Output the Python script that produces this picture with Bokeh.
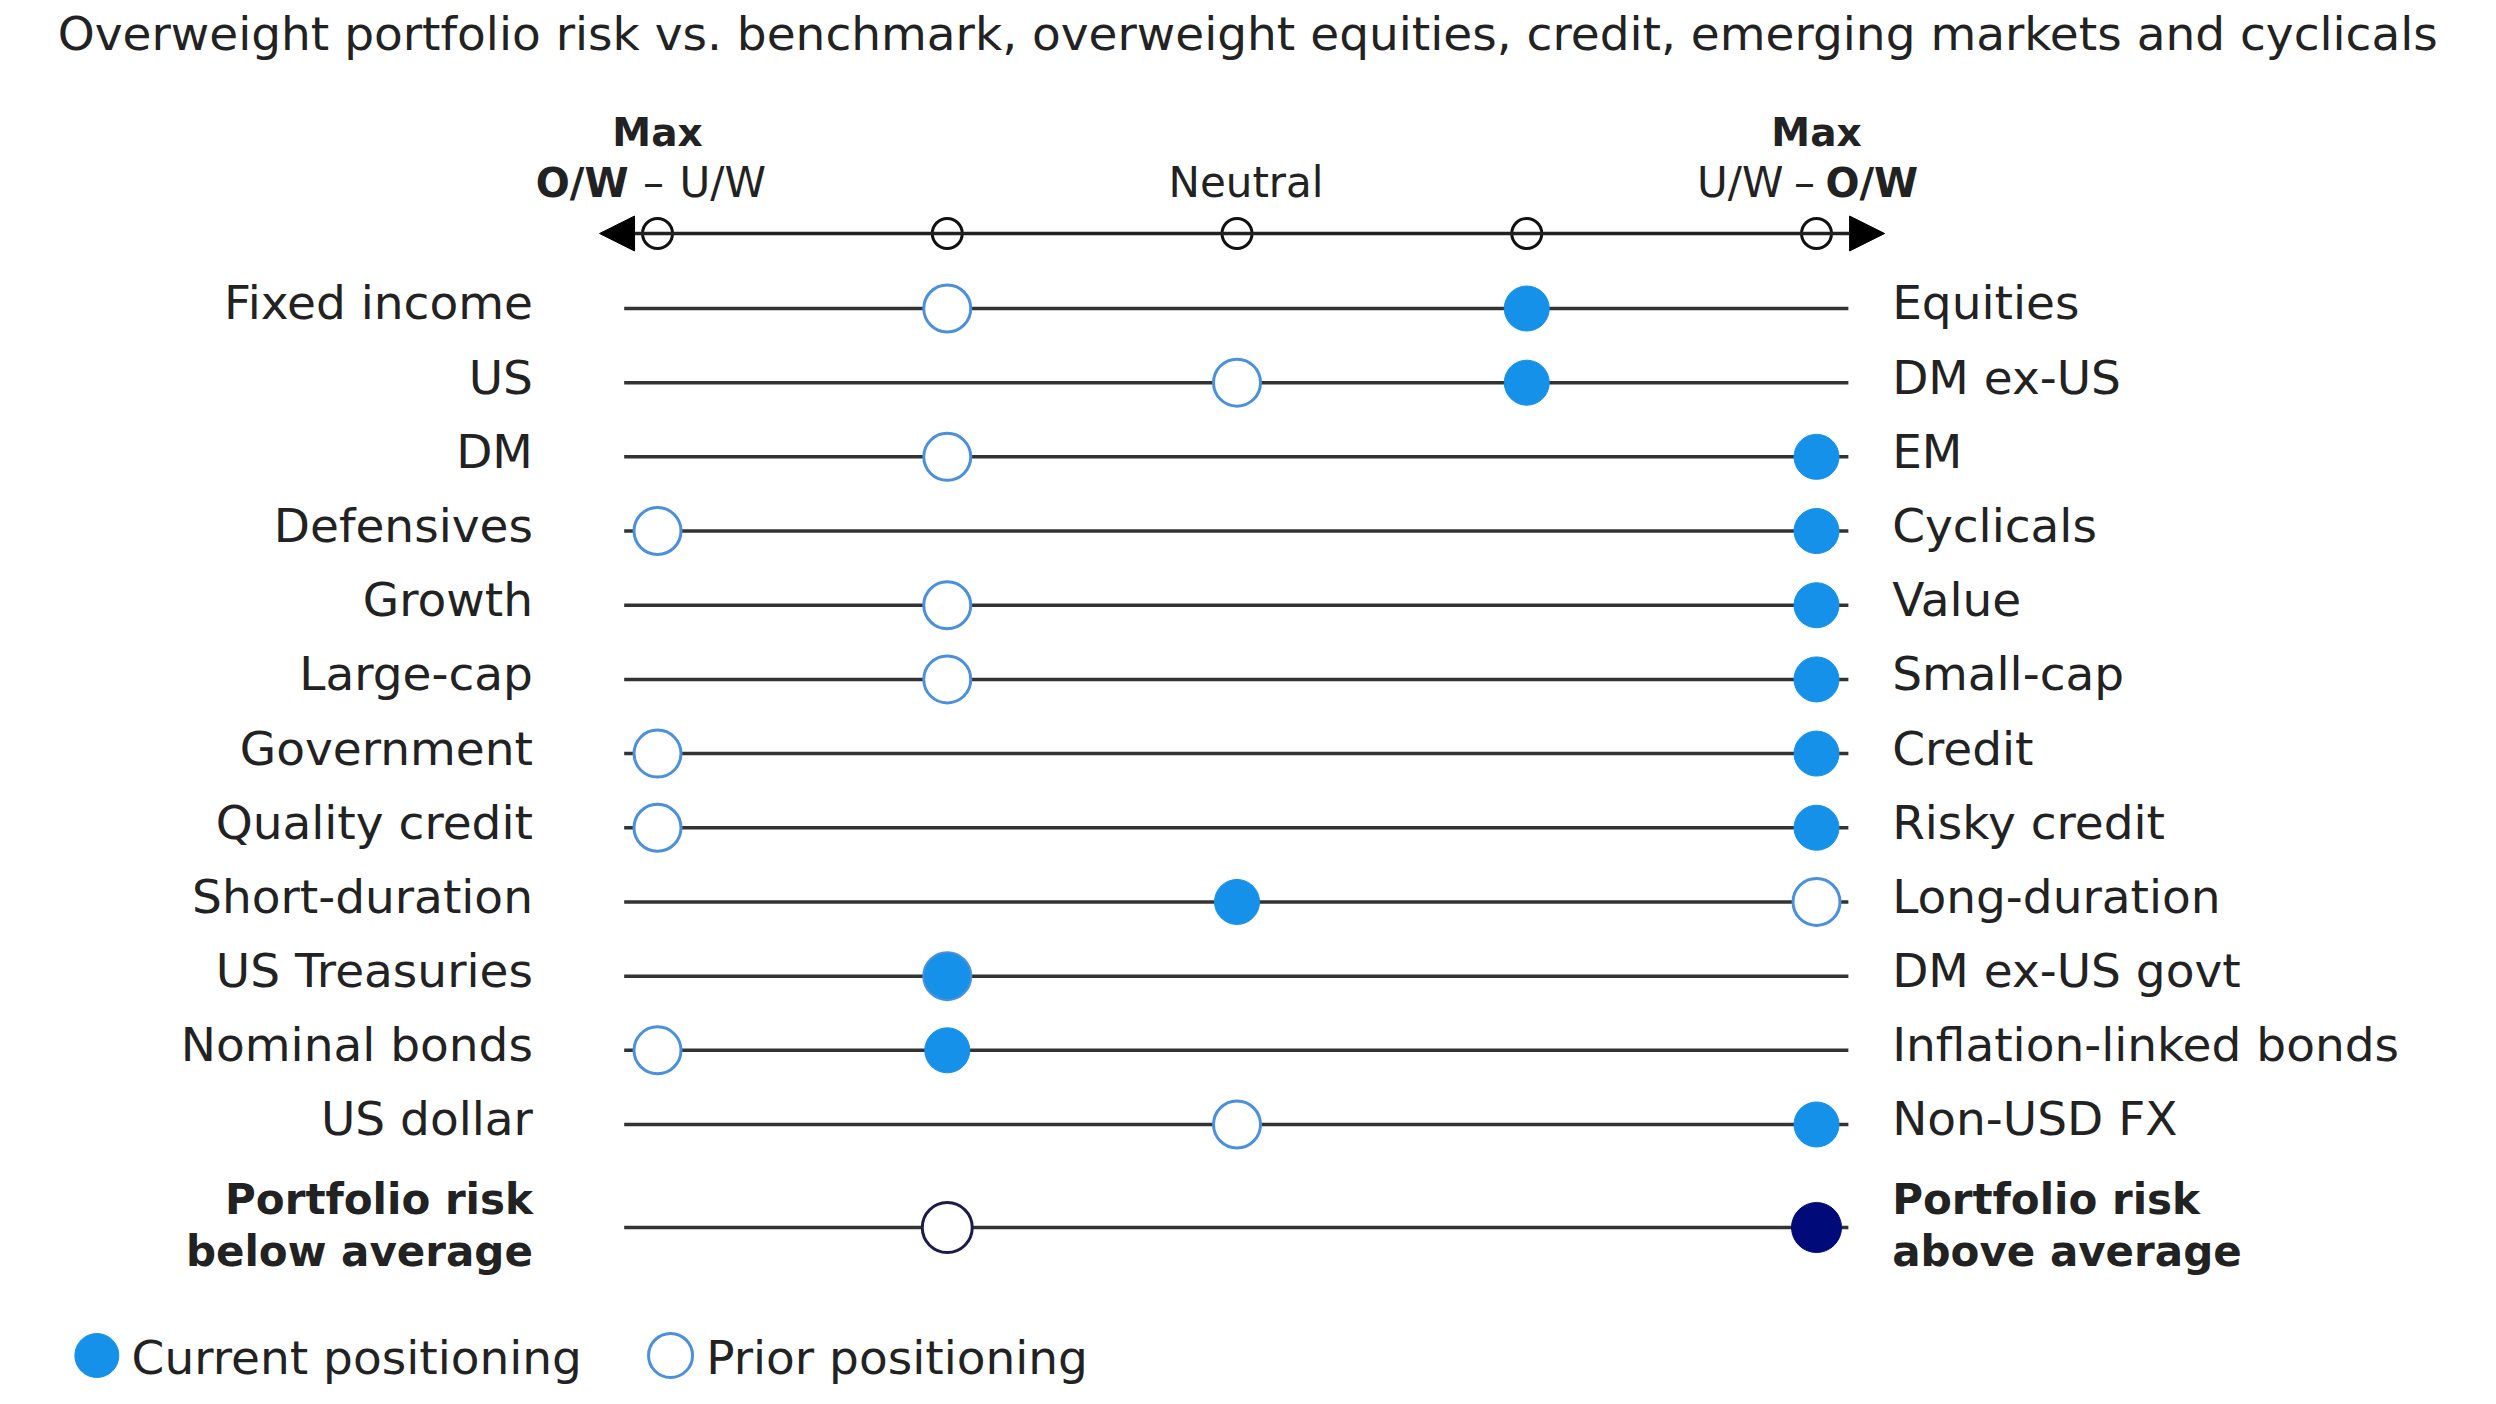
from bokeh.plotting import figure
from bokeh.models import Range1d, Arrow, NormalHead
from bokeh.core.properties import value
from bokeh.embed import file_html
from bokeh.resources import INLINE

# ---------------- data ----------------
title_text = ("Overweight portfolio risk vs. benchmark, overweight equities, "
              "credit, emerging markets and cyclicals")
left_labels = ["Fixed income", "US", "DM", "Defensives", "Growth", "Large-cap",
               "Government", "Quality credit", "Short-duration", "US Treasuries",
               "Nominal bonds", "US dollar"]
right_labels = ["Equities", "DM ex-US", "EM", "Cyclicals", "Value", "Small-cap",
                "Credit", "Risky credit", "Long-duration", "DM ex-US govt",
                "Inflation-linked bonds", "Non-USD FX"]
# scale: 0 = max O/W left item, 2 = neutral, 4 = max O/W right item
current_pos = [3, 3, 4, 4, 4, 4, 4, 4, 2, 1, 1, 4]
prior_pos = [1, 2, 1, 0, 1, 1, 0, 0, 4, 1, 0, 2]
risk_left = ["Portfolio risk", "below average"]
risk_right = ["Portfolio risk", "above average"]
risk_current = 4
risk_prior = 1
scale_ticks = [0, 1, 2, 3, 4]
legend_labels = ["Current positioning", "Prior positioning"]

# ---------------- styles / geometry ----------------
FONT = value("DejaVu Sans")
TXT = "#222222"
BLUE = "#1591EA"
BLUE_LINE = "#4A90DC"
NAVY = "#000A78"
LINE = "#333333"
W, H = 2480, 1388
ROW_PX = 74.18          # pixels per row


def dy(px):
    """pixel offset -> row units"""
    return px / ROW_PX


p = figure(width=W, height=H, x_range=Range1d(-2.2675, 6.2916),
           y_range=Range1d(14.559, -4.152), output_backend="svg",
           toolbar_location=None, min_border=0)
p.xaxis.visible = False
p.yaxis.visible = False
p.grid.visible = False
p.outline_line_color = None
p.background_fill_color = "white"
p.border_fill_color = "white"

n = len(left_labels)
ys = list(range(n))
risk_y = (n - 1) + 1.389
axis_y = -1.011
left_x, right_x = -0.43, 4.261
line_x0, line_x1 = -0.115, 4.110

# title
p.text(x=[-2.07], y=[-3.707], text=[title_text], text_align="left",
       text_baseline="alphabetic", text_font=FONT, text_font_size="47px",
       text_color=TXT)

# scale header
hdr_y1, hdr_y2 = -2.366, -1.692
p.text(x=[scale_ticks[0], scale_ticks[-1]], y=[hdr_y1, hdr_y1], text=["Max", "Max"],
       text_align="center", text_baseline="alphabetic", text_font=FONT,
       text_font_size="39px", text_font_style="bold", text_color=TXT)
# left end: "O/W – U/W"
p.text(x=[scale_ticks[0]], y=[hdr_y2], text=["–"], text_align="center",
       x_offset=-4, text_baseline="alphabetic", text_font=FONT,
       text_font_size="42px", text_color=TXT)
p.text(x=[scale_ticks[0]], y=[hdr_y2], text=["O/W"], text_align="right",
       x_offset=-29, text_baseline="alphabetic", text_font=FONT,
       text_font_size="40px", text_font_style="bold", text_color=TXT)
p.text(x=[scale_ticks[0]], y=[hdr_y2], text=["U/W"], text_align="left",
       x_offset=22, text_baseline="alphabetic", text_font=FONT,
       text_font_size="42px", text_color=TXT)
# right end: "U/W – O/W"
p.text(x=[scale_ticks[-1]], y=[hdr_y2], text=["–"], text_align="center",
       x_offset=-12, text_baseline="alphabetic", text_font=FONT,
       text_font_size="42px", text_color=TXT)
p.text(x=[scale_ticks[-1]], y=[hdr_y2], text=["U/W"], text_align="right",
       x_offset=-33, text_baseline="alphabetic", text_font=FONT,
       text_font_size="42px", text_color=TXT)
p.text(x=[scale_ticks[-1]], y=[hdr_y2], text=["O/W"], text_align="left",
       x_offset=9, text_baseline="alphabetic", text_font=FONT,
       text_font_size="40px", text_font_style="bold", text_color=TXT)
p.text(x=[scale_ticks[2]], y=[hdr_y2], text=["Neutral"], text_align="center",
       x_offset=9, text_baseline="alphabetic", text_font=FONT,
       text_font_size="42px", text_color=TXT)

# scale axis with arrows
p.add_layout(Arrow(start=NormalHead(size=35, fill_color="black", line_color="black"),
                   end=NormalHead(size=35, fill_color="black", line_color="black"),
                   x_start=-0.2, x_end=4.235, y_start=axis_y, y_end=axis_y,
                   line_width=3.5, line_color="#222222"))
p.scatter(x=scale_ticks, y=[axis_y] * len(scale_ticks), size=30,
          fill_color="white", line_color="#111111", line_width=3)

# row lines
p.segment(x0=[line_x0] * (n + 1), x1=[line_x1] * (n + 1),
          y0=ys + [risk_y], y1=ys + [risk_y], line_color=LINE, line_width=3.5)

# prior markers
p.scatter(x=prior_pos, y=ys, size=47, fill_color="white", line_color=BLUE_LINE,
          line_width=3)
# current markers
p.scatter(x=current_pos, y=ys, size=45, fill_color=BLUE, line_color=BLUE,
          line_width=1)
# risk row
p.scatter(x=[risk_prior], y=[risk_y], size=50, fill_color="white",
          line_color="#1C1C4A", line_width=3)
p.scatter(x=[risk_current], y=[risk_y], size=50, fill_color=NAVY,
          line_color=NAVY, line_width=1)

# row labels
lab_y = [y + dy(-5.5) for y in ys]
p.text(x=[left_x] * n, y=lab_y, text=left_labels, text_align="right",
       text_baseline="alphabetic", text_font=FONT, text_font_size="47px",
       text_color=TXT)
p.text(x=[right_x] * n, y=lab_y, text=right_labels, text_align="left",
       text_baseline="alphabetic", text_font=FONT, text_font_size="47px",
       text_color=TXT)
risk_lines_y = [risk_y - dy(28), risk_y + dy(24)]
p.text(x=[left_x] * 2, y=risk_lines_y, text=risk_left, text_align="right",
       text_baseline="alphabetic", text_font=FONT, text_font_size="42px",
       text_font_style="bold", text_color=TXT)
p.text(x=[right_x] * 2, y=risk_lines_y, text=risk_right, text_align="left",
       text_baseline="alphabetic", text_font=FONT, text_font_size="42px",
       text_font_style="bold", text_color=TXT)

# legend
leg_y = 14.114
leg_text_y = 14.141
p.scatter(x=[-1.935], y=[leg_y], size=44, fill_color=BLUE, line_color=BLUE)
p.scatter(x=[0.045], y=[leg_y], size=44, fill_color="white",
          line_color=BLUE_LINE, line_width=3)
p.text(x=[-1.815, 0.168], y=[leg_text_y, leg_text_y], text=legend_labels,
       text_align="left", text_baseline="alphabetic", text_font=FONT,
       text_font_size="47px", text_color=TXT)

open("out.html", "w").write(file_html(p, INLINE))
